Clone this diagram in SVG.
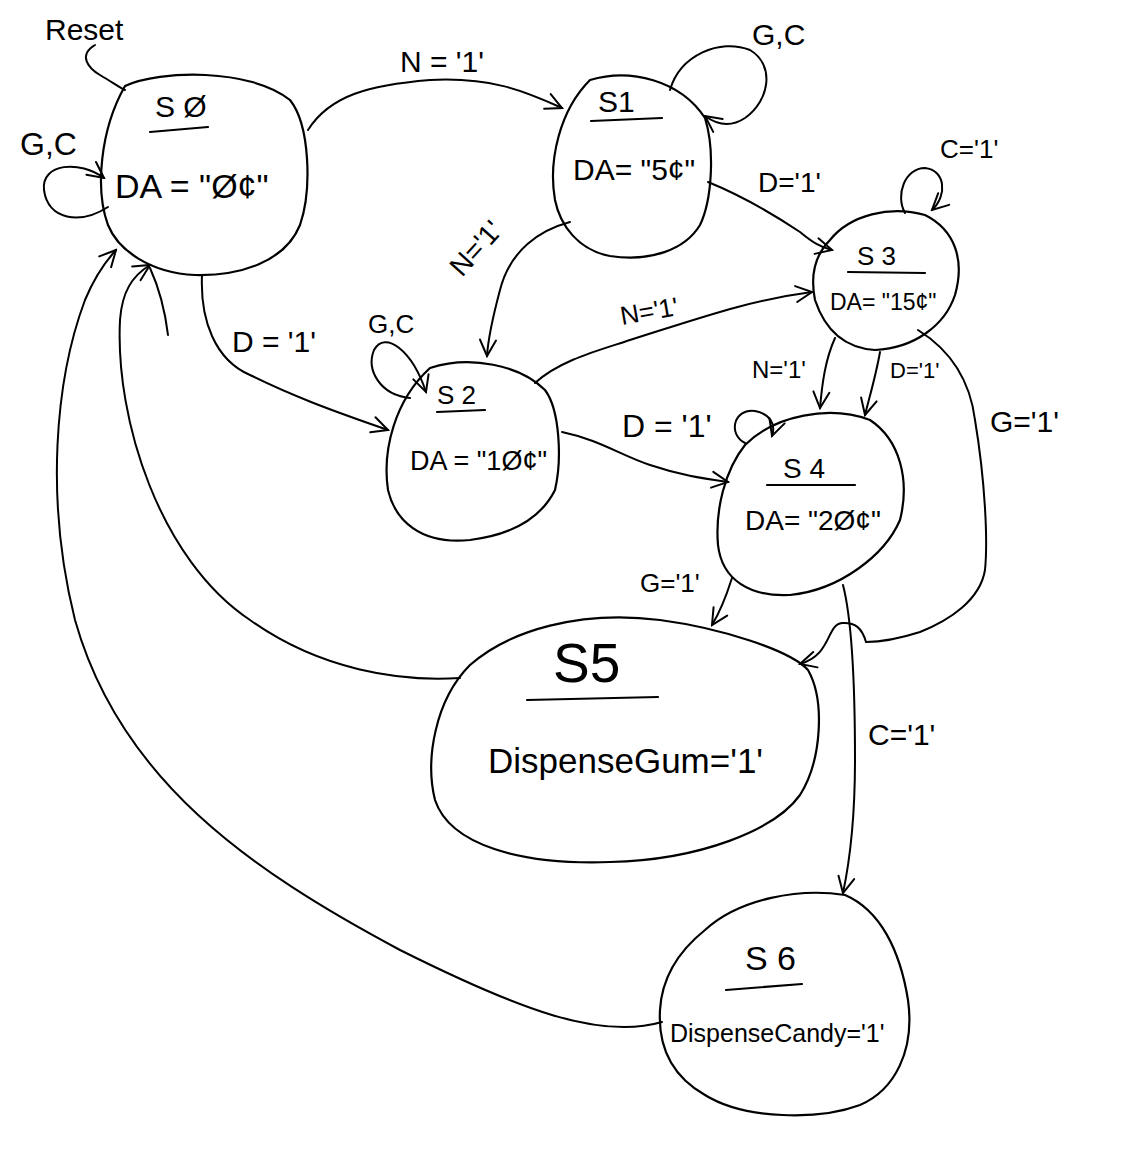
<svg xmlns="http://www.w3.org/2000/svg" width="1144" height="1154" viewBox="0 0 1144 1154">
<defs>
<marker id="ah" viewBox="0 0 20 20" refX="18" refY="10" markerWidth="20" markerHeight="20" markerUnits="userSpaceOnUse" orient="auto">
<path d="M2,2 L18,10 L2,18" fill="none" stroke="#000" stroke-width="2" stroke-linecap="round"/>
</marker>
<style>
.blob{fill:none;stroke:#000;stroke-width:2.2;stroke-linejoin:round}
.e{fill:none;stroke:#000;stroke-width:2;stroke-linecap:round}
.a{marker-end:url(#ah)}
.ul{stroke:#000;stroke-width:2.2;stroke-linecap:round}
text{font-family:"Liberation Sans","DejaVu Sans",sans-serif;fill:#000}
.lbl{font-size:28px}
</style>
</defs>
<rect width="1144" height="1154" fill="#fff"/>

<g id="connectors">
<path class="e" d="M95,45 C78,55 88,68 100,75 C112,82 120,88 125,90"/>
<path class="e a" d="M108,207 C80,225 48,220 44,190 C41,163 80,160 104,178"/>
<path class="e a" d="M308,130 C330,95 370,85 430,80 C490,77 522,90 562,108"/>
<path class="e a" d="M670,90 C680,55 720,38 750,50 C775,65 770,100 745,118 C730,128 716,124 705,116"/>
<path class="e a" d="M708,182 C740,195 770,212 800,232 C812,242 820,247 832,250"/>
<path class="e a" d="M905,213 C895,195 905,168 925,168 C945,170 948,195 932,210"/>
<path class="e a" d="M570,222 C540,230 510,250 500,290 C492,320 488,340 487,356"/>
<path class="e a" d="M202,275 C200,320 215,360 250,375 C290,395 330,410 388,430"/>
<path class="e a" d="M410,398 C380,395 366,370 374,350 C385,330 412,350 426,392"/>
<path class="e a" d="M535,383 C560,360 600,350 630,340 C700,318 750,300 812,292"/>
<path class="e a" d="M562,432 C600,440 620,455 650,465 C680,475 700,478 728,482"/>
<path class="e a" d="M835,338 C825,360 822,385 820,408"/>
<path class="e a" d="M880,352 C876,375 870,395 865,415"/>
<path class="e a" d="M745,443 C728,435 733,408 755,411 C770,414 776,424 772,436"/>
<path class="e a" d="M918,330 C950,350 970,380 975,420 C985,480 988,540 985,570 C980,600 950,620 920,632 C895,640 875,642 866,642 C862,628 855,622 842,623 C826,625 832,655 800,664"/>
<path class="e a" d="M732,578 C725,600 720,612 712,625"/>
<path class="e a" d="M843,585 C852,620 855,680 855,760 C855,820 850,860 843,893"/>
<path class="e a" d="M460,678 C400,682 320,670 250,620 C160,560 115,420 120,320 C122,292 132,276 150,265"/>
<path class="e a" d="M662,1022 C600,1040 520,1010 400,950 C250,870 120,780 75,620 C45,500 55,380 85,300 C95,276 105,262 116,250"/>
<path class="e" d="M150,268 C160,290 165,310 168,335"/>
</g>

<g id="labels">
<text x="45" y="40" font-size="30">Reset</text>
<text x="20" y="155" font-size="32">G,C</text>
<text x="400" y="72" font-size="30">N = '1'</text>
<text x="752" y="45" font-size="30">G,C</text>
<text x="758" y="192" class="lbl">D='1'</text>
<text x="940" y="158" font-size="26">C='1'</text>
<text x="0" y="0" class="lbl" transform="translate(462,278) rotate(-48)">N='1'</text>
<text x="232" y="352" font-size="30">D = '1'</text>
<text x="368" y="333" font-size="26">G,C</text>
<text x="0" y="0" font-size="26" transform="translate(622,325) rotate(-10)">N='1'</text>
<text x="622" y="437" font-size="32">D = '1'</text>
<text x="752" y="378" font-size="24">N='1'</text>
<text x="890" y="378" font-size="22">D='1'</text>
<text x="990" y="432" font-size="30">G='1'</text>
<text x="640" y="592" font-size="26">G='1'</text>
<text x="868" y="745" font-size="30">C='1'</text>
</g>

<g id="S0">
<path class="blob" d="M125,86 C160,70 250,68 290,100 C310,125 312,190 300,225 C285,262 240,276 195,275 C150,273 118,250 108,225 C95,190 100,130 125,86 Z"/>
<text x="155" y="117" font-size="30">S Ø</text>
<line class="ul" x1="150" y1="132" x2="208" y2="127"/>
<text x="115" y="198" font-size="34">DA = "Ø¢"</text>
</g>

<g id="S1">
<path class="blob" d="M590,80 C630,68 680,80 705,118 C715,150 712,200 700,225 C685,250 650,262 610,256 C578,250 560,225 555,200 C548,160 560,110 590,80 Z"/>
<text x="598" y="112" font-size="30">S1</text>
<line class="ul" x1="591" y1="121" x2="662" y2="118"/>
<text x="573" y="180" font-size="30">DA= "5¢"</text>
</g>

<g id="S3">
<path class="blob" d="M830,240 C850,215 890,205 925,215 C955,230 965,260 955,295 C945,325 915,348 875,350 C845,348 825,330 815,300 C810,275 815,255 830,240 Z"/>
<text x="857" y="265" font-size="26">S 3</text>
<line class="ul" x1="848" y1="272" x2="925" y2="273"/>
<text x="830" y="310" font-size="23">DA= "15¢"</text>
</g>

<g id="S2">
<path class="blob" d="M430,368 C470,355 520,365 545,390 C560,410 562,460 555,490 C540,520 510,535 470,540 C420,545 395,520 388,490 C382,450 395,400 430,368 Z"/>
<text x="437" y="404" font-size="26">S 2</text>
<line class="ul" x1="437" y1="412" x2="485" y2="410"/>
<text x="410" y="470" font-size="27">DA = "1Ø¢"</text>
</g>

<g id="S4">
<path class="blob" d="M745,445 C775,415 830,405 870,420 C900,440 910,480 900,520 C885,555 840,590 790,595 C750,597 722,580 718,545 C715,510 725,470 745,445 Z"/>
<text x="783" y="478" font-size="28">S 4</text>
<line class="ul" x1="767" y1="485" x2="855" y2="485"/>
<text x="745" y="530" font-size="28">DA= "2Ø¢"</text>
</g>

<g id="S5">
<path class="blob" d="M470,665 C510,630 580,610 660,620 C720,628 790,650 808,670 C825,700 822,760 800,795 C775,830 700,860 610,862 C520,865 450,845 435,800 C425,760 435,700 470,665 Z"/>
<text x="553" y="682" font-size="55">S5</text>
<line class="ul" x1="527" y1="700" x2="658" y2="697"/>
<text x="488" y="773" font-size="35">DispenseGum='1'</text>
</g>

<g id="S6">
<path class="blob" d="M705,930 C740,898 800,888 845,895 C880,910 900,950 908,1000 C915,1050 895,1090 860,1105 C820,1120 745,1120 705,1095 C670,1075 658,1045 660,1010 C662,975 680,950 705,930 Z"/>
<text x="745" y="970" font-size="34">S 6</text>
<line class="ul" x1="726" y1="990" x2="802" y2="984"/>
<text x="670" y="1042" font-size="25">DispenseCandy='1'</text>
</g>
</svg>
